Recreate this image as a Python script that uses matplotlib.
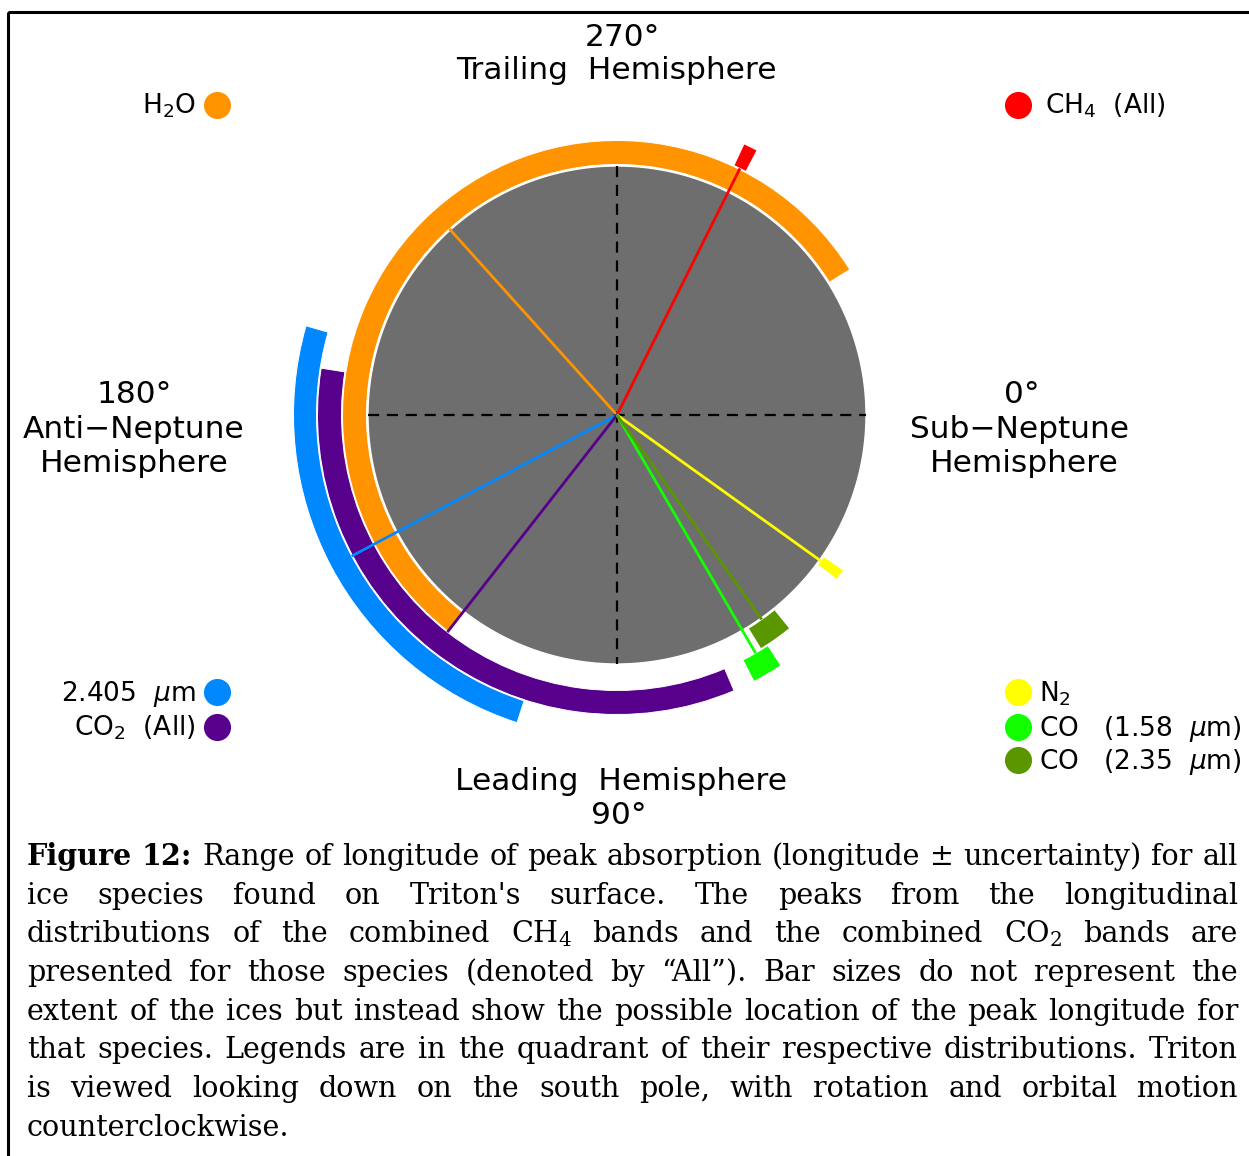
import matplotlib
matplotlib.use("Agg")
import matplotlib.pyplot as plt
import numpy as np

# ---------------- data ----------------
species = ["H2O", "CH4 (All)", "CO2 2.405 um", "CO2 (All)", "N2", "CO 1.58 um", "CO 2.35 um"]
peak_lon = [228.0, 296.5, 152.0, 128.0, 35.6, 59.8, 54.7]      # deg
uncert = [100.0, 1.4, 44.0, 61.0, 1.2, 3.0, 3.7]               # deg
colors = ["#FF9400", "#FF0000", "#0088FF", "#56008C", "#FFFF00", "#11FF00", "#5A9600"]
band = [0, 1, 2, 1, 0, 1, 0]                                    # ring index

legend_left = ["H$_\\mathregular{2}$O", "2.405  $\\mu$m", "CO$_\\mathregular{2}$  (All)"]
legend_left_col = ["#FF9400", "#0088FF", "#56008C"]
legend_right = ["CH$_\\mathregular{4}$  (All)", "N$_\\mathregular{2}$",
                "CO   (1.58  $\\mu$m)", "CO   (2.35  $\\mu$m)"]
legend_right_col = ["#FF0000", "#FFFF00", "#11FF00", "#5A9600"]

caption_lines = [
    "Figure 12: Range of longitude of peak absorption (longitude \u00b1 uncertainty) for all",
    "ice species found on Triton's surface. The peaks from the longitudinal",
    "distributions of the combined CH$_\\mathregular{4}$ bands and the combined CO$_\\mathregular{2}$ bands are",
    "presented for those species (denoted by \u201cAll\u201d). Bar sizes do not represent the",
    "extent of the ices but instead show the possible location of the peak longitude for",
    "that species. Legends are in the quadrant of their respective distributions. Triton",
    "is viewed looking down on the south pole, with rotation and orbital motion",
    "counterclockwise.",
]

# ---------------- layout ----------------
W, H = 1249, 1156
fig = plt.figure(figsize=(W / 100, H / 100), dpi=100)
ax0 = fig.add_axes([0, 0, 1, 1])
ax0.set_xlim(0, W)
ax0.set_ylim(H, 0)
ax0.axis("off")

# frame
ax0.add_patch(plt.Rectangle((8.5, 12), 1300, 1300, fill=False, ec="black", lw=2.2, clip_on=False))

cx, cy, RMAX = 617, 415, 330
R = 249
band_in = [250.5, 275.5, 300.5]
band_w = [24.0, 24.0, 23.0]

axp = fig.add_axes([(cx - RMAX) / W, (H - cy - RMAX) / H, 2 * RMAX / W, 2 * RMAX / H],
                   projection="polar")
axp.set_theta_zero_location("E")
axp.set_theta_direction(-1)
axp.set_ylim(0, RMAX)
axp.axis("off")
axp.patch.set_alpha(0)

# disk
th = np.linspace(0, 2 * np.pi, 721)
axp.fill(th, np.full_like(th, R), color="#6E6E6E", ec="white", lw=1.0, zorder=1)
# dashed crosshair
for a in (0.0, 0.5 * np.pi):
    axp.plot([a + np.pi, a + np.pi, a, a], [R, 0, 0, R], color="black", lw=1.6,
             ls=(0, (5, 3.5)), zorder=2)

# range bars (big first)
order = np.argsort(uncert)[::-1]
for i in order:
    b = band[i]
    axp.bar(np.deg2rad(peak_lon[i]), band_w[b], width=np.deg2rad(2 * uncert[i]),
            bottom=band_in[b], color=colors[i], ec="white", lw=0.7, align="center",
            zorder=3, clip_on=False)
# peak lines
for i in range(len(species)):
    b = band[i]
    t = np.deg2rad(peak_lon[i])
    axp.plot([t, t], [0, band_in[b]], color=colors[i], lw=2.0, zorder=4,
             solid_capstyle="butt")

# ---------------- labels ----------------
sans = "DejaVu Sans"
fs = 22.5
lab = dict(family=sans, fontsize=fs, va="baseline", ha="center", color="black")
ax0.text(622, 46, "270\u00b0", **lab)
ax0.text(616, 79, "Trailing  Hemisphere", **lab)
ax0.text(134, 403, "180\u00b0", **lab)
ax0.text(134, 438, "Anti\u2212Neptune", **lab)
ax0.text(134, 472, "Hemisphere", **lab)
ax0.text(1022, 403, "0\u00b0", **lab)
ax0.text(1020, 438, "Sub\u2212Neptune", **lab)
ax0.text(1024, 472, "Hemisphere", **lab)
ax0.text(621, 790, "Leading  Hemisphere", **lab)
ax0.text(619, 824, "90\u00b0", **lab)

lfs = 19
left_y = [105, 692, 727]
for lbl, col, y in zip(legend_left, legend_left_col, left_y):
    ax0.plot([217], [y], "o", ms=19.5, color=col, mew=0)
    ax0.text(196, y + 9, lbl, family=sans, fontsize=lfs, va="baseline", ha="right")
right_y = [105, 692, 727, 760]
right_x = [1045, 1039, 1039, 1039]
for lbl, col, y, tx in zip(legend_right, legend_right_col, right_y, right_x):
    ax0.plot([1018], [y], "o", ms=19.5, color=col, mew=0)
    ax0.text(tx, y + 9, lbl, family=sans, fontsize=lfs, va="baseline", ha="left")

# ---------------- caption (justified) ----------------
serif = "DejaVu Serif"
x0, x1 = 27, 1238
base0, dy = 865, 38.7
fig.canvas.draw()
renderer = fig.canvas.get_renderer()


def words_of(i, line):
    ws = line.split(" ")
    out = []
    for k, w in enumerate(ws):
        out.append((w, i == 0 and k < 2))
    return out


def measure(size):
    probe = ax0.text(0, 0, "a a", family=serif, fontsize=size)
    probe2 = ax0.text(0, 0, "aa", family=serif, fontsize=size)
    sp = probe.get_window_extent(renderer).width - probe2.get_window_extent(renderer).width
    probe.remove(); probe2.remove()
    res = []
    for i, line in enumerate(caption_lines):
        ws = []
        for w, bold in words_of(i, line):
            t = ax0.text(0, 0, w, family=serif, fontsize=size,
                         fontweight="bold" if bold else "normal")
            ws.append(t.get_window_extent(renderer).width)
            t.remove()
        res.append(ws)
    return sp, res


s0 = 20.0
sp, res = measure(s0)
nat = max(sum(ws) + sp * (len(ws) - 1) for ws in res[:-1])
size = s0 * (x1 - x0) / nat * 0.995
sp, res = measure(size)
for i, line in enumerate(caption_lines):
    wl = words_of(i, line)
    ws = res[i]
    y = base0 + i * dy
    if i < len(caption_lines) - 1 and len(ws) > 1:
        gap = ((x1 - x0) - sum(ws)) / (len(ws) - 1)
    else:
        gap = sp
    x = x0
    for (w, bold), wd in zip(wl, ws):
        ax0.text(x, y, w, family=serif, fontsize=size, va="baseline", ha="left",
                 fontweight="bold" if bold else "normal")
        x += wd + gap

fig.savefig("out.png", dpi=100)
